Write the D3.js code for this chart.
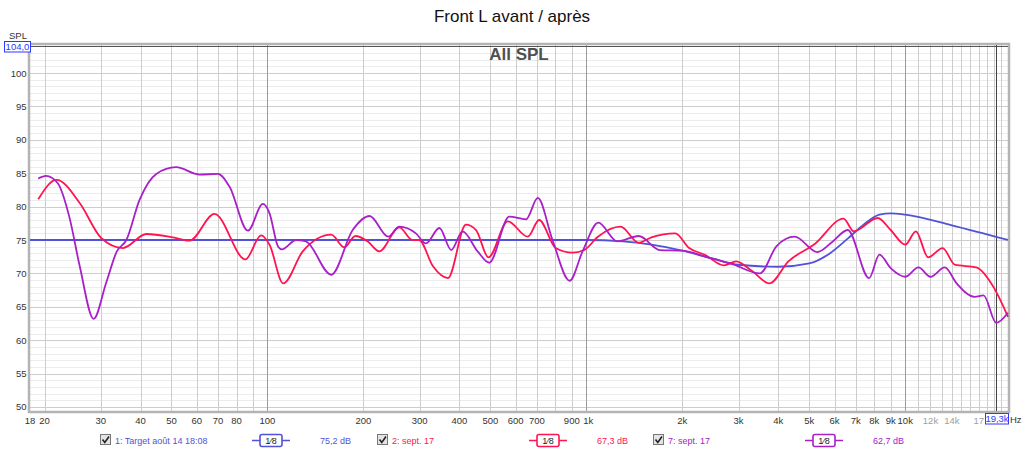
<!DOCTYPE html>
<html>
<head>
<meta charset="utf-8">
<script src="https://cdn.jsdelivr.net/npm/d3@7"></script>
<style>
  body { margin: 0; background: #fff; }
  svg { display: block; font-family: "Liberation Sans", Arial, sans-serif; }
  .grid-minor { stroke: #ececec; stroke-width: 1; shape-rendering: crispEdges; }
  .grid-major { stroke: #cdcdcd; stroke-width: 1; shape-rendering: crispEdges; }
  .grid-decade { stroke: #9a9a9a; stroke-width: 1; shape-rendering: crispEdges; }
  .tick { font-size: 9.5px; fill: #333; }
  .curve { fill: none; stroke-width: 1.8; }
</style>
</head>
<body>
<div id="chart"></div>
<script>
// y axis
const yMajor = [50, 55, 60, 65, 70, 75, 80, 85, 90, 95, 100];
// x axis labels
const xLabelVals = [18, 20, 30, 40, 50, 60, 70, 80, 100, 200, 300, 400, 500, 600, 700, 900, 1000,
  2000, 3000, 4000, 5000, 6000, 7000, 8000, 9000, 10000, 12000, 14000, 17000];
const xLabelText = ["18", "20", "30", "40", "50", "60", "70", "80", "100", "200", "300", "400", "500", "600", "700", "900", "1k",
  "2k", "3k", "4k", "5k", "6k", "7k", "8k", "9k", "10k", "12k", "14k", "17"];
const xGridVals = [20, 30, 40, 50, 60, 70, 80, 90, 200, 300, 400, 500, 600, 700, 800, 900,
  2000, 3000, 4000, 5000, 6000, 7000, 8000, 9000, 11000, 12000, 13000, 14000, 15000, 16000, 17000, 18000, 19000, 20000];
const xDecades = [100, 1000, 10000];

// 1: Target
const targetF = [18, 1000, 1300, 1600, 2000, 2500, 3000, 4000, 5000, 5800, 6600, 7400, 8300, 9000, 10000, 14000, 21000];
const targetDb = [75, 75, 74.8, 74.3, 73.4, 72.2, 71.3, 71, 71.5, 73, 75.2, 77.3, 78.8, 79, 78.8, 77.2, 75];

// 2: sept. 17 (red)
const redF = [19.1, 21.8, 25.8, 30.1, 35.2, 41.7, 50.5, 57, 68.2, 85.3, 95.5, 101.5, 112, 129, 158.5, 174, 188.7, 206, 224, 259, 285, 299, 330, 368,
  419, 451, 493, 567, 655, 711, 801, 904, 985, 1087, 1280, 1460, 1600, 1900, 2100, 2350, 2700, 2950, 3300, 3750, 4300, 5200, 6400, 6900, 8200,
  9000, 10000, 10800, 11800, 13100, 14300, 16700, 19000, 21000];
const redDb = [81.1, 84.0, 80.5, 75.3, 73.8, 75.9, 75.4, 74.9, 78.9, 72.1, 75.7, 74.3, 68.5, 73.3, 75.8, 73.9, 75.6, 74.8, 73.3, 76.9, 75.0, 75.0, 71.1, 69.3,
  77.3, 76.5, 72.4, 77.8, 75.5, 78.0, 73.8, 73.1, 73.5, 75.5, 77.0, 74.6, 75.4, 76.0, 73.8, 72.8, 71.2, 71.8, 70.4, 68.5, 71.8, 74.4, 78.2, 76.3, 78.3,
  76.5, 74.3, 76.3, 72.4, 73.8, 71.3, 70.9, 67.8, 63.5];

// 7: sept. 17 (purple)
const purpleF = [19.1, 20.2, 22.0, 23.9, 25.8, 28.5, 31.2, 33.7, 36.1, 39.7, 44.8, 51.7, 61.2, 69.9, 76.0, 86.8, 96.7, 101.5, 108, 111, 123, 132, 158.5,
  185, 209, 239, 259, 292, 314, 346, 377, 409, 456, 496, 573, 647, 704, 783, 886, 973, 1090, 1250, 1460, 1700, 2000, 2400, 2900, 3500,
  3950, 4500, 5300, 5900, 6600, 7700, 8300, 9000, 10000, 11000, 12000, 13300, 14500, 16500, 17600, 19300, 21000];
const purpleDb = [84.2, 84.6, 83.5, 78.5, 71.0, 63.2, 68.6, 73.3, 75.0, 81.0, 84.9, 85.9, 84.8, 84.9, 83.0, 76.4, 80.4, 79.0, 74.0, 73.6, 75.0, 74.8, 69.8,
  76.5, 78.6, 75.5, 77.0, 76.0, 74.5, 76.8, 73.5, 76.3, 73.3, 71.6, 78.5, 78.1, 81.3, 75.0, 68.9, 73.3, 77.6, 74.8, 75.6, 73.5, 73.4, 72.4, 71.3, 70.0,
  74.1, 75.5, 73.2, 74.7, 76.5, 69.3, 72.8, 70.8, 69.5, 70.9, 69.5, 70.9, 68.5, 66.5, 66.7, 62.6, 64.1];

const series = [
  { f: targetF, db: targetDb, color: "#5252d8", label: "1: Target août 14 18:08", level: "75,2 dB" },
  { f: redF, db: redDb, color: "#ff1450", label: "2: sept. 17", level: "67,3 dB" },
  { f: purpleF, db: purpleDb, color: "#a820c8", label: "7: sept. 17", level: "62,7 dB" }
];

const W = 1024, H = 452;
const pLeft = 30, pRight = 1008, pTop = 45, pBottom = 411;

const x = d3.scaleLog().domain([18, 21000]).range([pLeft, pRight]);
const y = d3.scaleLinear().domain([49.4, 104.2]).range([pBottom, pTop]);

const svg = d3.select("#chart").append("svg").attr("width", W).attr("height", H);

// grid
const grid = svg.append("g");
grid.selectAll(".hmin").data(d3.range(50, 105)).enter().append("line")
  .attr("class", "grid-minor")
  .attr("x1", pLeft).attr("x2", pRight)
  .attr("y1", d => Math.round(y(d)) + 0.5).attr("y2", d => Math.round(y(d)) + 0.5);
grid.selectAll(".hmaj").data(yMajor).enter().append("line")
  .attr("class", "grid-major")
  .attr("x1", pLeft).attr("x2", pRight)
  .attr("y1", d => Math.round(y(d)) + 0.5).attr("y2", d => Math.round(y(d)) + 0.5);
grid.selectAll(".vmaj").data(xGridVals).enter().append("line")
  .attr("class", "grid-major")
  .attr("y1", pTop).attr("y2", pBottom)
  .attr("x1", d => Math.round(x(d)) + 0.5).attr("x2", d => Math.round(x(d)) + 0.5);
grid.selectAll(".vdec").data(xDecades).enter().append("line")
  .attr("class", "grid-decade")
  .attr("y1", pTop).attr("y2", pBottom)
  .attr("x1", d => Math.round(x(d)) + 0.5).attr("x2", d => Math.round(x(d)) + 0.5);

// frame
svg.append("rect").attr("x", pLeft - 1).attr("y", pTop - 1).attr("width", pRight - pLeft + 2).attr("height", pBottom - pTop + 2)
  .attr("fill", "none").attr("stroke", "#b4b4b4").attr("stroke-width", 2.5);
svg.append("line").attr("x1", pLeft).attr("x2", pRight).attr("y1", Math.round(y(104)) + 0.5).attr("y2", Math.round(y(104)) + 0.5)
  .attr("stroke", "#555").attr("stroke-width", 1);
// cursor at 19.3k
svg.append("line").attr("y1", pTop).attr("y2", pBottom)
  .attr("x1", Math.round(x(19300)) + 0.5).attr("x2", Math.round(x(19300)) + 0.5)
  .attr("stroke", "#444").attr("stroke-width", 1);

// curves
const line = d3.line()
  .x(d => x(d[0]))
  .y(d => y(d[1]))
  .curve(d3.curveMonotoneX);
const plot = svg.append("g");
series.forEach(s => {
  const pts = s.f.map((f, i) => [f, s.db[i]]);
  plot.append("path").attr("class", "curve").attr("stroke", s.color).attr("d", line(pts));
});

// y labels
svg.selectAll(".ylab").data(yMajor).enter().append("text")
  .attr("class", "tick")
  .attr("x", 26.5).attr("y", d => y(d) + 3.5)
  .attr("text-anchor", "end")
  .text(d => d);
svg.append("text").attr("class", "tick").attr("x", 18).attr("y", 39).attr("text-anchor", "middle").text("SPL");
svg.append("rect").attr("x", 4.5).attr("y", 41.5).attr("width", 26).attr("height", 10.5)
  .attr("fill", "#fff").attr("stroke", "#2a3cff");
svg.append("text").attr("x", 17.5).attr("y", 50).attr("text-anchor", "middle")
  .attr("font-size", 9.5).attr("fill", "#2a3cff").text("104,0");

// x labels
svg.selectAll(".xlab").data(xLabelVals).enter().append("text")
  .attr("class", "tick")
  .attr("x", (d, i) => x(d) + (d === 1000 ? 2 : 0)).attr("y", 424)
  .attr("text-anchor", "middle")
  .style("fill", d => d > 10000 ? "#a0a0a0" : null)
  .text((d, i) => xLabelText[i]);
svg.append("rect").attr("x", 985.5).attr("y", 413.5).attr("width", 23).attr("height", 10.5)
  .attr("fill", "#fff").attr("stroke", "#2a3cff");
svg.append("text").attr("x", 997).attr("y", 422).attr("text-anchor", "middle")
  .attr("font-size", 9.5).attr("fill", "#2a3cff").text("19,3k");
svg.append("text").attr("class", "tick").attr("x", 1010).attr("y", 423).text("Hz");

// titles
svg.append("text").attr("x", 512).attr("y", 22).attr("text-anchor", "middle")
  .attr("font-size", 17).attr("fill", "#111").text("Front L avant / après");
svg.append("text").attr("x", 519).attr("y", 60).attr("text-anchor", "middle")
  .attr("font-size", 17).attr("font-weight", "bold").attr("fill", "#505050").text("All SPL");

// legend
const legendX = [100, 377, 653];
const legend = svg.selectAll(".leg").data(series).enter().append("g")
  .attr("transform", (d, i) => "translate(" + legendX[i] + ",441)");
legend.append("rect").attr("x", 0.5).attr("y", -6.5).attr("width", 10).attr("height", 10)
  .attr("fill", "#e4e4e4").attr("stroke", "#777");
legend.append("path").attr("d", "M2.5,-1.5 L4.8,1.5 L9,-4.5").attr("fill", "none").attr("stroke", "#222").attr("stroke-width", 1.6);
legend.append("text").attr("x", 15).attr("y", 2.5).attr("font-size", 9).attr("fill", d => d.color).text(d => d.label);
legend.append("line").attr("x1", 152).attr("x2", 190).attr("y1", -0.5).attr("y2", -0.5)
  .attr("stroke", d => d.color).attr("stroke-width", 1.6);
legend.append("rect").attr("x", 160).attr("y", -6.5).attr("width", 22).attr("height", 12).attr("rx", 2)
  .attr("fill", "#fff").attr("stroke", d => d.color).attr("stroke-width", 1.6);
legend.append("text").attr("x", 171).attr("y", 2.5).attr("text-anchor", "middle").attr("font-size", 9).attr("fill", "#222").text("1⁄8");
legend.append("text").attr("x", 220).attr("y", 2.5).attr("font-size", 9).attr("fill", d => d.color).text(d => d.level);
</script>
</body>
</html>
